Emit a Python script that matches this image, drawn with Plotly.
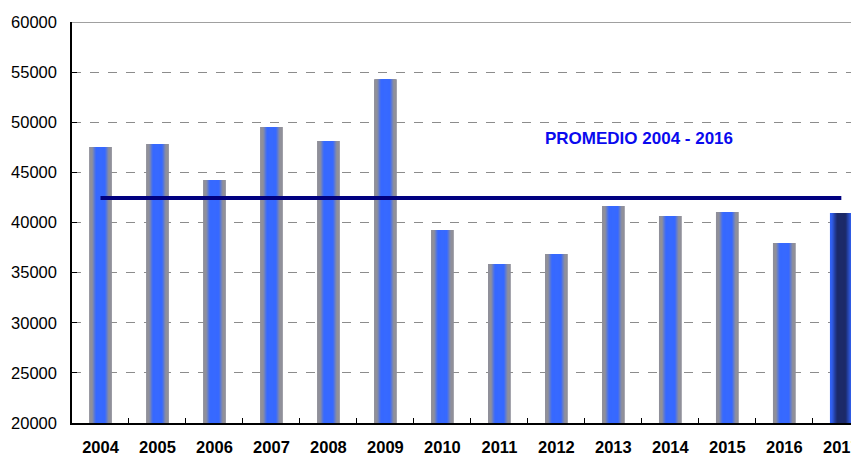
import plotly.graph_objects as go

# données
annees = ['2004', '2005', '2006', '2007', '2008', '2009', '2010',
          '2011', '2012', '2013', '2014', '2015', '2016', '2017']
valeurs = [47530, 47830, 44240, 49530, 48130, 54300, 39250,
           35860, 36860, 41650, 40650, 41050, 37950, 40950]
promedio = 42450
texte_promedio = 'PROMEDIO 2004 - 2016'
y_ticks = [20000, 25000, 30000, 35000, 40000, 45000, 50000, 55000, 60000]


def melange(c1, c2, t):
    t = max(0.0, min(1.0, t))
    return 'rgb(%d,%d,%d)' % tuple(round(a + (b - a) * t) for a, b in zip(c1, c2))


gris = (144, 144, 154)
bleu = (55, 105, 255)
bleu_2017 = (50, 98, 245)
sombre = (28, 42, 105)

fig = go.Figure()

# barres en dégradé : plusieurs couches superposées de plus en plus étroites
largeur_max = 0.40
n = 12
for i in range(n):
    largeur = largeur_max * (1 - 0.8 * i / (n - 1))
    d = (largeur_max - largeur) / 2          # distance au bord (unités de catégorie)
    f = (d - 0.045) / 0.07
    couleurs = [melange(gris, bleu, f)] * (len(annees) - 1)
    couleurs.append(melange(bleu_2017, sombre, (d - 0.02) / 0.1))
    fig.add_trace(go.Bar(x=annees, y=valeurs, width=largeur,
                         marker=dict(color=couleurs, line=dict(width=0)),
                         hoverinfo='skip', showlegend=False))

# ligne de la moyenne
fig.add_trace(go.Scatter(x=[annees[0], annees[-1]], y=[promedio, promedio],
                         mode='lines', line=dict(color='#000080', width=4),
                         hoverinfo='skip', showlegend=False))

# la page html ajoute 8 px de marge autour de la figure
fig.update_layout(
    barmode='overlay',
    width=854, height=447,
    margin=dict(l=64, r=3, t=14, b=32),
    paper_bgcolor='white',
    plot_bgcolor='white',
    font=dict(family='Liberation Sans, Arial', size=16, color='black'),
    xaxis=dict(
        type='category',
        range=[-0.5, 13.31],
        automargin=False,
        showline=True, linecolor='black', linewidth=1.5,
        ticks='inside', tickson='boundaries', ticklen=5, tickcolor='black',
        showgrid=False,
        tickvals=annees,
        ticktext=['<b>' + a + '</b>' for a in annees],
        tickfont=dict(size=16.5, family='Liberation Sans, Arial', color='black'),
        ticklabelstandoff=8,
        ticklabeloverflow='allow',
    ),
    yaxis=dict(
        range=[20000, 60000],
        automargin=False,
        tickvals=y_ticks,
        ticktext=[str(v) for v in y_ticks],
        showline=True, linecolor='black', linewidth=1.5,
        ticks='inside', ticklen=5, tickcolor='black',
        showgrid=True, gridcolor='#8c8c8c', griddash='dash', gridwidth=1,
        zeroline=False,
        tickfont=dict(size=16.5),
        ticklabelstandoff=10,
    ),
    shapes=[dict(type='line', xref='paper', yref='y', x0=0, x1=1,
                 y0=60000, y1=60000, line=dict(color='#808080', width=1.5))],
    annotations=[dict(xref='paper', yref='y', x=0.72, y=48330,
                      xanchor='center', yanchor='middle',
                      text='<b>' + texte_promedio + '</b>',
                      showarrow=False,
                      font=dict(size=17, color='#0a0aee',
                                family='Liberation Sans, Arial'))],
)

# pas de barre de défilement dans la page
fig.write_html("out.html", post_script="document.body.style.overflow='hidden';")
